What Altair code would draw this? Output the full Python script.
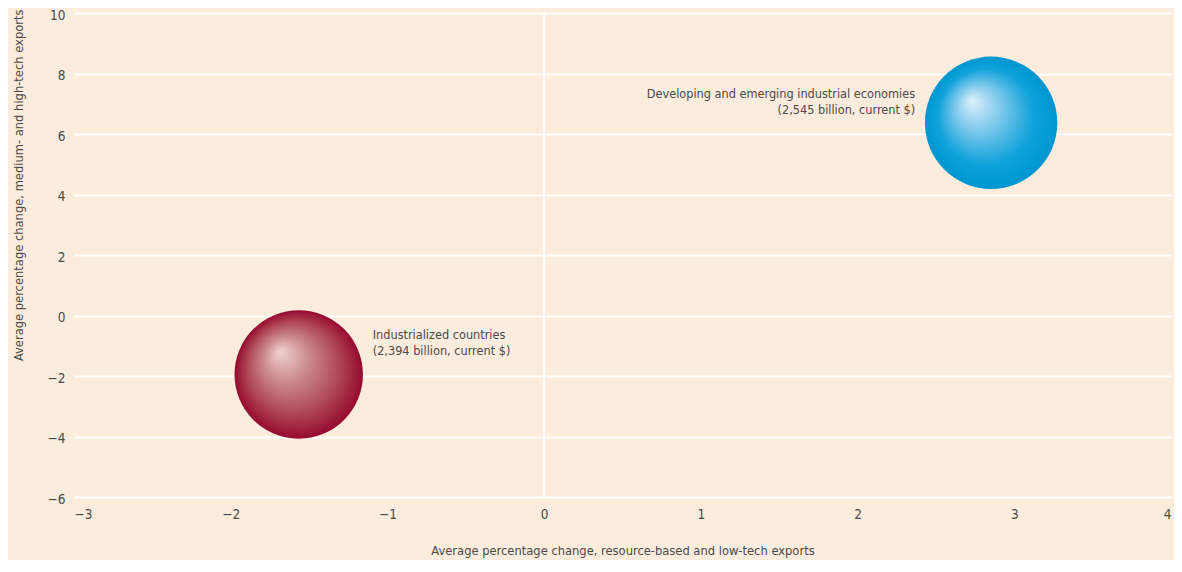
import altair as alt
import pandas as pd

# Data
groups = ["Industrialized countries", "Developing and emerging industrial economies"]
x_vals = [-1.566, 2.852]
y_vals = [-1.95, 6.37]
exports_bn = [2394, 2545]
labels = [
    "Industrialized countries\n(2,394 billion, current $)",
    "Developing and emerging industrial economies\n(2,545 billion, current $)",
]
x_ticks = [-3, -2, -1, 0, 1, 2, 3, 4]
y_ticks = [-6, -4, -2, 0, 2, 4, 6, 8, 10]

df = pd.DataFrame({"group": groups, "x": x_vals, "y": y_vals,
                   "exports": exports_bn, "label": labels})
df_ind = df.iloc[[0]]
df_dev = df.iloc[[1]]
zero_df = pd.DataFrame({"x": [0]})

FONT = "Liberation Sans Narrow, DejaVu Sans Condensed, Roboto Condensed, Arial Narrow, Roboto, sans-serif"
TXT = "#4a4a4a"
BG = "#FBECDD"

xscale = alt.Scale(domain=[-3, 4], nice=False, zero=False)
yscale = alt.Scale(domain=[-6, 10], nice=False, zero=False)
# Vega circle symbol: size = (2r)^2
sscale = alt.Scale(type="linear", domain=[0, 2545], range=[0, 17530])

x_enc = alt.X("x:Q", scale=xscale, axis=alt.Axis(
    values=x_ticks, format="d", grid=False, domain=False, ticks=False, labelPadding=10,
    labelFontSize=13.5, labelColor=TXT, labelFont=FONT,
    title="Average percentage change, resource-based and low-tech exports",
    titleFontSize=12.8, titleFontWeight="normal", titleColor=TXT, titleFont=FONT,
    titlePadding=24))
y_enc = alt.Y("y:Q", scale=yscale, axis=alt.Axis(
    values=y_ticks, format="d", grid=True, gridColor="white", gridWidth=2, gridOpacity=1,
    domain=False, ticks=False, labelPadding=9, labelOffset=2,
    labelFontSize=13.5, labelColor=TXT, labelFont=FONT,
    title="Average percentage change, medium- and high-tech exports",
    titleFontSize=12.8, titleFontWeight="normal", titleColor=TXT, titleFont=FONT,
    titleAnchor="end", titleAlign="right", titleAngle=-90, titleBaseline="middle",
    titleX=-56, titleY=-4))

zero_rule = alt.Chart(zero_df).mark_rule(color="white", strokeWidth=2).encode(
    x=alt.X("x:Q", scale=xscale))

red_grad = alt.RadialGradient(
    gradient="radial",
    stops=[alt.GradientStop(color="#f0d2d2", offset=0),
           alt.GradientStop(color="#cc8a8e", offset=0.35),
           alt.GradientStop(color="#b04a58", offset=0.7),
           alt.GradientStop(color="#960a30", offset=1)],
    x1=0.35, y1=0.32, r1=0, x2=0.5, y2=0.5, r2=0.5)
blue_grad = alt.RadialGradient(
    gradient="radial",
    stops=[alt.GradientStop(color="#def0fa", offset=0),
           alt.GradientStop(color="#7cc8ec", offset=0.35),
           alt.GradientStop(color="#10a2da", offset=0.72),
           alt.GradientStop(color="#0096d0", offset=1)],
    x1=0.35, y1=0.33, r1=0, x2=0.5, y2=0.5, r2=0.5)

def bubble(d, grad):
    return alt.Chart(d).mark_circle(fill=grad, opacity=1, strokeWidth=0).encode(
        x=x_enc, y=y_enc,
        size=alt.Size("exports:Q", scale=sscale, legend=None))

red = bubble(df_ind, red_grad)
blue = bubble(df_dev, blue_grad)

lab_ind = alt.Chart(df_ind).mark_text(
    align="left", baseline="top", dx=74, dy=-45, lineHeight=16, lineBreak="\n",
    fontSize=12.6, font=FONT, color=TXT).encode(
    x=alt.X("x:Q", scale=xscale), y=alt.Y("y:Q", scale=yscale), text="label:N")
lab_dev = alt.Chart(df_dev).mark_text(
    align="right", baseline="top", dx=-76, dy=-35, lineHeight=16, lineBreak="\n",
    fontSize=12.6, font=FONT, color=TXT).encode(
    x=alt.X("x:Q", scale=xscale), y=alt.Y("y:Q", scale=yscale), text="label:N")

chart = alt.layer(zero_rule, red, blue, lab_ind, lab_dev).properties(
    width=1097, height=484,
    autosize=alt.AutoSizeParams(type="none"),
    padding={"left": 66, "top": 5, "right": 3, "bottom": 63},
    background=BG,
).configure_view(stroke=None)

chart.save("out.html", embed_options={"renderer": "svg", "actions": False})
